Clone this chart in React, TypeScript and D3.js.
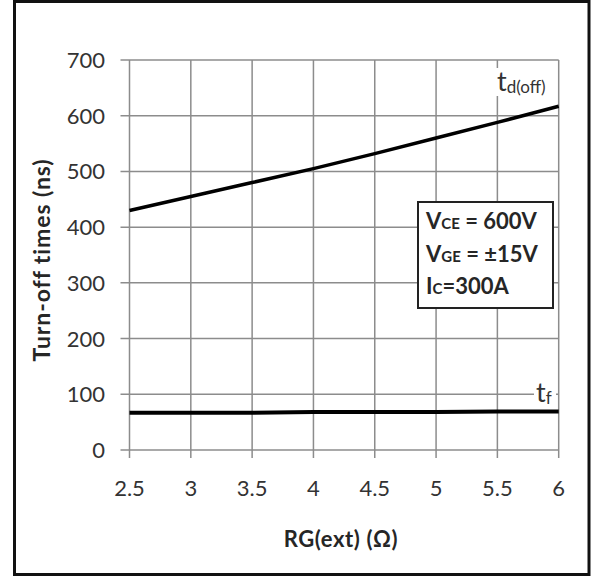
import React from "react";
import * as d3 from "d3";

// Turn-off times vs. external gate resistance
const rgValues = [2.5, 3, 3.5, 4, 4.5, 5, 5.5, 6];
const tdOffValues = [430, 455, 480, 505, 532, 560, 588, 617];
const tfValues = [67, 67, 67, 68, 68, 68, 69, 69];
const xTicks = [2.5, 3, 3.5, 4, 4.5, 5, 5.5, 6];
const yTicks = [0, 100, 200, 300, 400, 500, 600, 700];
const conditions = [
  { main: "V", sub: "CE", rest: " = 600V" },
  { main: "V", sub: "GE", rest: " = ±15V" },
  { main: "I", sub: "C", rest: "=300A" },
];

const width = 592;
const height = 577;
const font = "Lato, 'Open Sans', sans-serif";

const App: React.FC = () => {
  const x = d3.scaleLinear().domain([2.5, 6]).range([129.5, 558.7]);
  const y = d3.scaleLinear().domain([0, 700]).range([450, 60]);

  const line = d3
    .line<number>()
    .x((_, i) => x(rgValues[i]))
    .y((d) => y(d));

  const gridColor = "#8c8c8c";
  const textColor = "#333";

  return (
    <div style={{ position: "absolute", left: 0, top: 0 }}>
      <svg width={width} height={height} style={{ display: "block" }}>
        <rect x={0} y={0} width={width} height={height} fill="#fff" />
        <rect
          x={14.5}
          y={1.5}
          width={574.5}
          height={573}
          fill="none"
          stroke="#111"
          strokeWidth={3}
        />

        {/* horizontal grid + left ticks */}
        {yTicks.map((t) => (
          <g key={"y" + t}>
            <line
              x1={x(2.5) - 9}
              x2={x(6)}
              y1={y(t)}
              y2={y(t)}
              stroke={gridColor}
              strokeWidth={1.5}
            />
            <text
              x={105}
              y={y(t) + 8}
              textAnchor="end"
              fontFamily={font}
              fontSize={22}
              fill={textColor}
            >
              {t}
            </text>
          </g>
        ))}

        {/* vertical grid + bottom ticks */}
        {xTicks.map((t) => (
          <g key={"x" + t}>
            <line
              x1={x(t)}
              x2={x(t)}
              y1={y(700)}
              y2={y(0) + 8}
              stroke={gridColor}
              strokeWidth={1.5}
            />
            <text
              x={x(t)}
              y={496}
              textAnchor="middle"
              fontFamily={font}
              fontSize={22}
              fill={textColor}
            >
              {t}
            </text>
          </g>
        ))}

        {/* curves */}
        <path d={line(tdOffValues) || ""} fill="none" stroke="#000" strokeWidth={3.5} />
        <path d={line(tfValues) || ""} fill="none" stroke="#000" strokeWidth={4} />

        {/* curve labels */}
        <rect x={494} y={68} width={62} height={28} fill="#fff" />
        <text x={497} y={91} fontFamily={font} fill={textColor}>
          <tspan fontSize={27}>t</tspan>
          <tspan fontSize={17} dy={2}>d(off)</tspan>
        </text>
        <rect x={534} y={381} width={22} height={24} fill="#fff" />
        <text x={536} y={402} fontFamily={font} fill={textColor}>
          <tspan fontSize={27}>t</tspan>
          <tspan fontSize={17} dy={2}>f</tspan>
        </text>

        {/* conditions box */}
        <rect
          x={418}
          y={202}
          width={135}
          height={106}
          fill="#fff"
          stroke="#222"
          strokeWidth={2}
        />
        {conditions.map((c, i) => (
          <text
            key={c.sub}
            x={426}
            y={229 + i * 32.5}
            fontFamily={font}
            fontWeight="bold"
            fill="#262626"
          >
            <tspan fontSize={22}>{c.main}</tspan>
            <tspan fontSize={15}>{c.sub}</tspan>
            <tspan fontSize={22}>{c.rest}</tspan>
          </text>
        ))}

        {/* axis titles */}
        <text
          x={341}
          y={547}
          textAnchor="middle"
          fontFamily={font}
          fontWeight="bold"
          fontSize={22}
          letterSpacing={0.6}
          fill="#262626"
        >
          RG(ext) (Ω)
        </text>
        <text
          transform="translate(50,260) rotate(-90)"
          textAnchor="middle"
          fontFamily={font}
          fontWeight="bold"
          fontSize={23}
          letterSpacing={0.9}
          fill="#262626"
        >
          Turn-off times (ns)
        </text>
      </svg>
    </div>
  );
};

export default App;
